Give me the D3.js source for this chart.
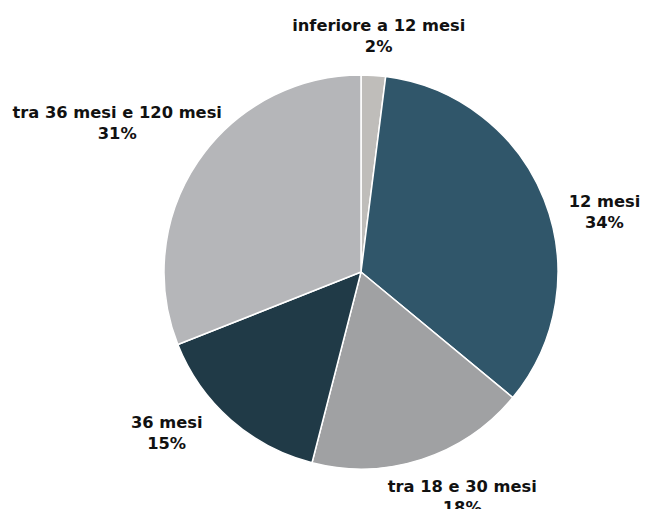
<!DOCTYPE html>
<html><head><meta charset="utf-8">
<script src="https://cdn.jsdelivr.net/npm/d3@7/dist/d3.min.js"></script>
<style>html,body{margin:0;padding:0;background:#fff;}svg{display:block;}</style>
</head><body>
<svg id="chart" width="646" height="509"></svg>
<script>
const categories = ["inferiore a 12 mesi", "12 mesi", "tra 18 e 30 mesi", "36 mesi", "tra 36 mesi e 120 mesi"];
const values = [2, 34, 18, 15, 31];
const colors = ["#bfbdba", "#30566a", "#a0a1a3", "#203a47", "#b5b6b9"];
// label nudges (layout only), relative to outer-arc anchor
const labelNudge = [[2, 13], [11, 31], [24, -14], [-29, -27], [-37, -9]];

const svg = d3.select("#chart");
const cx = 361, cy = 272, r = 197, labelR = 250;
const g = svg.append("g").attr("transform", `translate(${cx},${cy})`);
const pie = d3.pie().sort(null).value(d => d.v);
const data = pie(categories.map((c, i) => ({c, v: values[i], i})));
const arc = d3.arc().innerRadius(0).outerRadius(r);
const labelArc = d3.arc().innerRadius(labelR).outerRadius(labelR);

g.selectAll("path").data(data).join("path")
  .attr("d", arc)
  .attr("fill", d => colors[d.data.i])
  .attr("stroke", "#fff").attr("stroke-width", 1.5).attr("stroke-linejoin", "round");

const lab = g.selectAll("text.lab").data(data).join("text")
  .attr("class", "lab")
  .attr("text-anchor", "middle")
  .attr("font-family", "'DejaVu Sans', sans-serif")
  .attr("font-weight", "bold")
  .attr("font-size", 16.3)
  .attr("fill", "#111")
  .attr("transform", d => {
    const [x, y] = labelArc.centroid(d);
    const n = labelNudge[d.data.i];
    return `translate(${x + n[0]},${y + n[1]})`;
  });
lab.append("tspan").attr("x", 0).attr("dy", "-0.26em").text(d => d.data.c);
lab.append("tspan").attr("x", 0).attr("dy", "1.3em").text(d => d.data.v + "%");
</script>
</body></html>
